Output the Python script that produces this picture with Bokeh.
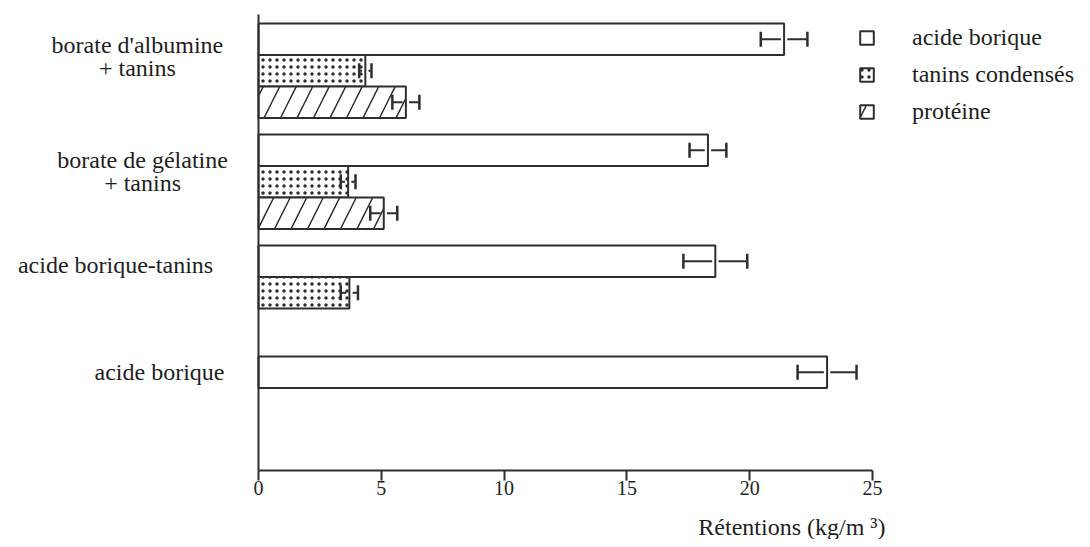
from bokeh.plotting import figure
from bokeh.models import (Range1d, FixedTicker, Whisker, TeeHead, ColumnDataSource,
                          Label, Legend, LegendItem, LinearAxis)
from bokeh.embed import file_html
from bokeh.resources import INLINE

# ---------------- data ----------------
categories = ["borate d'albumine\n+ tanins", "borate de gélatine\n+ tanins",
              "acide borique-tanins", "acide borique"]
series_names = ["acide borique", "tanins condensés", "protéine"]
acide_borique = [21.4, 18.3, 18.6, 23.15]
acide_borique_err = [0.95, 0.75, 1.3, 1.2]
tanins = [4.35, 3.65, 3.7, None]
tanins_err = [0.25, 0.3, 0.35, None]
proteine = [6.0, 5.1, None, None]
proteine_err = [0.55, 0.55, None, None]
x_ticks = [0, 5, 10, 15, 20, 25]
x_title = "Rétentions (kg/m ³)"

# ---------------- layout / style ----------------
W, H = 1082, 539
X0_PX, X_SCALE = 258, 24.56      # pixel of x=0, pixels per unit
Y0_PX, Y_SCALE = 470, 111.0      # pixel of y=0 (from top), pixels per group
FONT = "Liberation Serif"
INK = "#2e2e2e"
TXT = "#1e1e1e"
bar_h = 0.284
gap = 0.13                        # small break of the error line at the bar edge
axis_top = 4.108
group_top = [4.027 - k for k in range(len(categories))]
label_x = [-4.93, -4.72, -5.82, -4.03]
label_dy = [0.297, 0.333, 0.18, 0.144]

x_range = Range1d(-X0_PX / X_SCALE, (W - X0_PX) / X_SCALE)
y_range = Range1d((Y0_PX - H) / Y_SCALE, Y0_PX / Y_SCALE)

p = figure(width=W, height=H, x_range=x_range, y_range=y_range,
           output_backend="svg", toolbar_location=None,
           x_axis_type=None, y_axis_type=None, min_border=0)
p.outline_line_color = None
p.background_fill_color = "white"
p.border_fill_color = "white"

styles = [
    dict(hatch_pattern=" "),
    dict(hatch_pattern=".", hatch_scale=7, hatch_weight=1.6, hatch_color=INK),
    dict(hatch_pattern="/", hatch_scale=33, hatch_weight=1.5, hatch_color=INK),
]
values = [acide_borique, tanins, proteine]
errs = [acide_borique_err, tanins_err, proteine_err]


def tee():
    return TeeHead(size=15, line_color=INK, line_width=2.5)


legend_items = []
for s, (name, vals, ers, st) in enumerate(zip(series_names, values, errs, styles)):
    ys, rs, lo, lo_in, hi_in, hi = [], [], [], [], [], []
    for k, (v, e) in enumerate(zip(vals, ers)):
        if v is None:
            continue
        ys.append(group_top[k] - (s + 0.5) * bar_h)
        rs.append(v)
        lo.append(v - e)
        lo_in.append(max(v - gap, v - e))
        hi_in.append(v + gap)
        hi.append(v + e)
    src = ColumnDataSource(dict(y=ys, right=rs, lo=lo, lo_in=lo_in, hi_in=hi_in, hi=hi))
    r = p.hbar(y="y", right="right", left=0, height=bar_h, source=src,
               fill_color="white", line_color=INK, line_width=2, **st)
    legend_items.append(LegendItem(label=name, renderers=[r]))
    p.add_layout(Whisker(source=src, base="y", lower="lo", upper="lo_in", dimension="width",
                         line_color=INK, line_width=2, level="annotation",
                         lower_head=tee(), upper_head=None))
    p.add_layout(Whisker(source=src, base="y", lower="hi_in", upper="hi", dimension="width",
                         line_color=INK, line_width=2, level="annotation",
                         lower_head=None, upper_head=tee()))

# axes (fixed at the data origin, inside the frame)
xaxis = LinearAxis(fixed_location=0, bounds=(0, 25), ticker=FixedTicker(ticks=x_ticks))
xaxis.major_tick_out = 10
xaxis.major_tick_in = 0
xaxis.minor_tick_line_color = None
xaxis.axis_line_width = 2
xaxis.axis_line_color = INK
xaxis.major_tick_line_width = 2
xaxis.major_tick_line_color = INK
xaxis.major_label_text_font = FONT
xaxis.major_label_text_font_size = "20px"
xaxis.major_label_text_color = TXT
xaxis.major_label_standoff = 0
p.add_layout(xaxis, "below")

yaxis = LinearAxis(fixed_location=0, bounds=(0, axis_top), ticker=FixedTicker(ticks=[]))
yaxis.major_label_text_font_size = "0px"
yaxis.major_tick_line_color = None
yaxis.minor_tick_line_color = None
yaxis.axis_line_width = 2
yaxis.axis_line_color = INK
p.add_layout(yaxis, "left")

# category labels
for k, cat in enumerate(categories):
    p.add_layout(Label(x=label_x[k], y=group_top[k] - label_dy[k], text=cat,
                       text_align="center", text_baseline="middle",
                       text_font=FONT, text_font_size="24px", text_color=TXT,
                       text_line_height=0.92))

# axis title
p.add_layout(Label(x=25, y=-0.513, x_offset=13, text=x_title, text_align="right",
                   text_baseline="middle", text_font=FONT, text_font_size="24px",
                   text_color=TXT))

legend = Legend(items=legend_items, location=(858, 414), glyph_width=17, glyph_height=17,
                label_height=24, spacing=10, label_standoff=37, padding=0, margin=0,
                label_text_font=FONT, label_text_font_size="24px", label_text_color=TXT,
                background_fill_alpha=0, border_line_alpha=0)
p.add_layout(legend)

open("out.html", "w").write(file_html(p, INLINE))
